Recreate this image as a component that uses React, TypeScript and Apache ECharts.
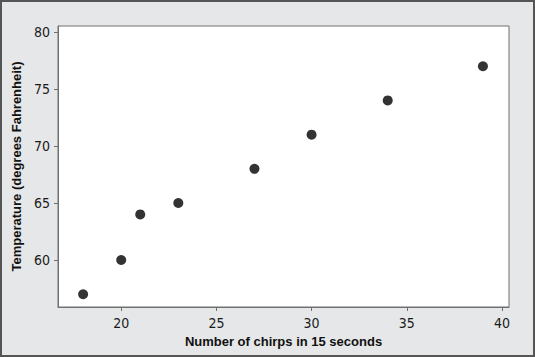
import React, { useEffect, useRef } from "react";
import * as echarts from "echarts";

const chirps = [18, 20, 21, 23, 27, 30, 34, 39];
const temps = [57, 60, 64, 65, 68, 71, 74, 77];
const xTicks = [20, 25, 30, 35, 40];
const yTicks = [60, 65, 70, 75, 80];

const TICK_FONT = "'Liberation Sans Narrow', 'DejaVu Sans Condensed', sans-serif";
const NAME_FONT = "'Liberation Sans', Arial, sans-serif";

export default function App() {
  const ref = useRef<HTMLDivElement>(null);
  useEffect(() => {
    if (!ref.current) return;
    const chart = echarts.init(ref.current, null, { renderer: "svg" });
    chart.setOption({
      animation: false,
      backgroundColor: "#e6e7e8",
      grid: {
        left: 58,
        top: 26,
        width: 451,
        height: 281,
        show: true,
        containLabel: false,
        outerBoundsMode: "none",
        backgroundColor: "#ffffff",
        borderColor: "#707070",
        borderWidth: 1,
      },
      xAxis: {
        type: "value",
        min: 16.68,
        max: 40.37,
        name: "Number of chirps in 15 seconds",
        nameLocation: "middle",
        nameGap: 28,
        nameTextStyle: { fontFamily: NAME_FONT, fontSize: 13, fontWeight: "bold", color: "#111" },
        axisLine: { show: true, lineStyle: { color: "#707070" } },
        axisTick: { show: true, inside: false, length: 4, customValues: xTicks, lineStyle: { color: "#707070" } },
        axisLabel: { customValues: xTicks, margin: 9, fontFamily: TICK_FONT, fontSize: 14, color: "#1a1a1a" },
        splitLine: { show: false },
      },
      yAxis: {
        type: "value",
        min: 55.88,
        max: 80.53,
        name: "Temperature (degrees Fahrenheit)",
        nameLocation: "middle",
        nameGap: 30,
        nameTextStyle: { fontFamily: NAME_FONT, fontSize: 13, fontWeight: "bold", color: "#111" },
        axisLine: { show: true, lineStyle: { color: "#707070" } },
        axisTick: { show: true, inside: false, length: 4, customValues: yTicks, lineStyle: { color: "#707070" } },
        axisLabel: { customValues: yTicks, margin: 8, fontFamily: TICK_FONT, fontSize: 14, color: "#1a1a1a" },
        splitLine: { show: false },
      },
      graphic: [
        {
          type: "rect",
          shape: { x: 1, y: 1, width: 533, height: 355 },
          style: { fill: "none", stroke: "#555", lineWidth: 2 },
          silent: true,
        },
      ],
      series: [
        {
          type: "scatter",
          data: chirps.map((c, i) => [c, temps[i]]),
          symbol: "circle",
          symbolSize: 10,
          itemStyle: { color: "#000" },
        },
      ],
    });
    return () => chart.dispose();
  }, []);
  return (
    <div
      ref={ref}
      style={{ position: "absolute", left: 0, top: 0, width: 535, height: 357 }}
    />
  );
}
